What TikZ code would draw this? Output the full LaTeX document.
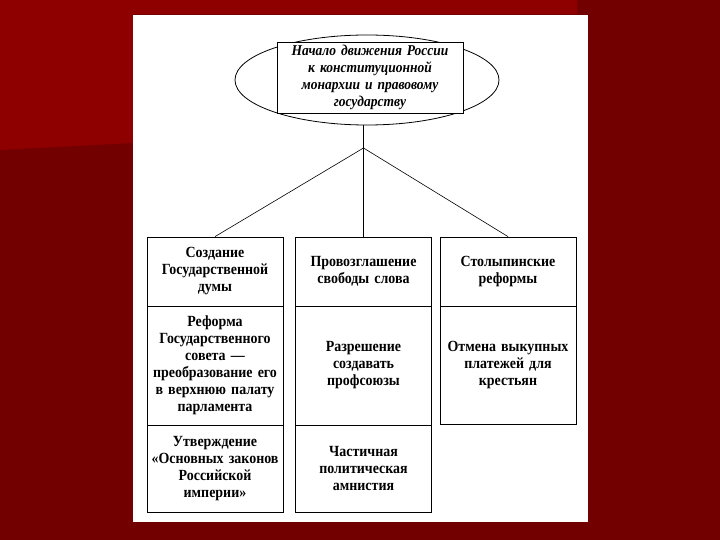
\documentclass[tikz,border=0pt]{standalone}
\usepackage{fontspec}
\setmainfont{Liberation Serif}
\newfontfamily\cellfont[FakeStretch=0.9]{Liberation Serif}
\usetikzlibrary{shapes.geometric}
\definecolor{slidered}{RGB}{115,0,0}
\definecolor{slidelight}{RGB}{142,0,0}
\begin{document}
\begin{tikzpicture}[
  x=1pt, y=-1pt,
  cell/.style={rectangle, draw, line width=0.8pt, minimum width=136pt, text width=134pt, align=center, inner sep=0pt, font=\cellfont\fontsize{15.5}{17}\selectfont\bfseries},
  link/.style={line width=0.6pt}
]
% slide background
\fill[slidered] (0,0) rectangle (720,540);
\fill[slidelight] (0,0) -- (577,0) -- (577,14) -- (133,14) -- (133,143) -- (0,150) -- cycle;
\fill[white] (133,15) rectangle (588,522);
\useasboundingbox (0,0) rectangle (720,540);

% top
\node[ellipse, draw, line width=0.8pt, minimum width=264pt, minimum height=90pt] (oval) at (367,80) {};
\node[rectangle, draw, fill=white, line width=0.8pt, minimum width=186pt, minimum height=71pt, text width=182pt, align=center, inner sep=0pt, font=\cellfont\fontsize{15}{17}\selectfont\bfseries\itshape] (head) at (370,77.5) {Начало движения России\\к конституционной\\монархии и правовому\\государству};
\coordinate (fork) at (363.5,148);

% columns
\node[cell, minimum height=69pt] (duma) at (215,271.5) {Создание\\Государственной\\думы};
\node[cell, minimum height=119pt] (sovet) at (215,365.5) {Реформа\\Государственного\\совета —\\преобразование его\\в верхнюю палату\\парламента};
\node[cell, minimum height=87pt] (zakony) at (215,468.5) {Утверждение\\«Основных законов\\Российской\\империи»};

\node[cell, minimum height=69pt] (svoboda) at (363.5,271.5) {Провозглашение\\свободы слова};
\node[cell, minimum height=119pt] (profsoyuz) at (363.5,365.5) {Разрешение\\создавать\\профсоюзы};
\node[cell, minimum height=87pt] (amnistiya) at (363.5,468.5) {Частичная\\политическая\\амнистия};

\node[cell, minimum height=69pt] (stolypin) at (508,271.5) {Столыпинские\\реформы};
\node[cell, minimum height=118pt] (otmena) at (508,365) {Отмена выкупных\\платежей для\\крестьян};

% connectors
\draw[link] (fork |- oval.south) -- (fork);
\draw[link] (fork) -- (duma.north);
\draw[link] (fork) -- (svoboda.north);
\draw[link] (fork) -- (stolypin.north);
\end{tikzpicture}
\end{document}
